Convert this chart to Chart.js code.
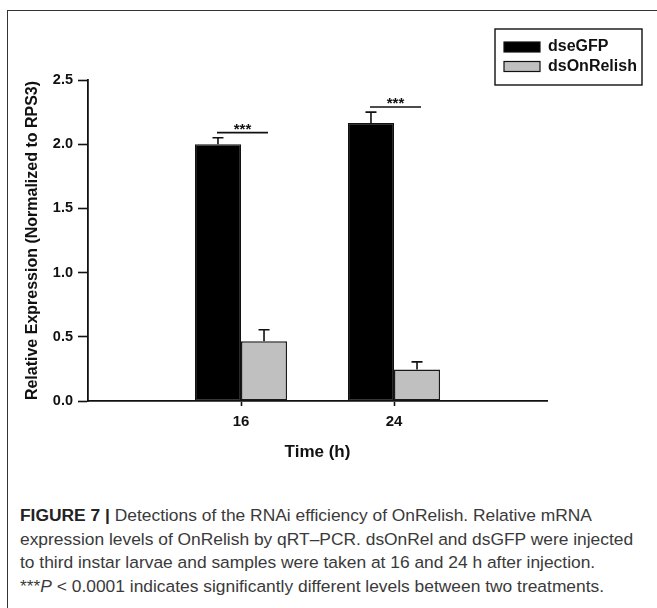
<!DOCTYPE html>
<html>
<head>
<meta charset="utf-8">
<script src="https://cdn.jsdelivr.net/npm/chart.js@4"></script>
<style>
  html, body { margin: 0; padding: 0; background: #fff; }
  #wrap { position: relative; width: 657px; height: 608px; overflow: hidden; }
  #frame { position: absolute; left: 7px; top: 10px; width: 700px; height: 700px;
           border-left: 1.3px solid #333; border-top: 1.3px solid #333; }
  #c { position: absolute; left: 0; top: 0; }
  #cap { position: absolute; left: 20px; top: 504px; font-family: "Liberation Sans", Arial, sans-serif;
         font-size: 17.4px; line-height: 23.5px; color: #3a3a3a; white-space: nowrap; }
  #cap b { color: #222; }
</style>
</head>
<body>
<div id="wrap">
  <div id="frame"></div>
  <canvas id="c" width="657" height="470"></canvas>
  <div id="cap">
    <b>FIGURE 7 |</b> Detections of the RNAi efficiency of OnRelish. Relative mRNA<br>
    expression levels of OnRelish by qRT–PCR. dsOnRel and dsGFP were injected<br>
    to third instar larvae and samples were taken at 16 and 24 h after injection.<br>
    ***<i>P</i> &lt; 0.0001 indicates significantly different levels between two treatments.
  </div>
</div>
<script>
// ---- data ----
const categories = ['', '16', '24', ''];
const seriesNames = ['dseGFP', 'dsOnRelish'];
const dseGFP = [null, 2.00, 2.165, null];
const dsOnRelish = [null, 0.465, 0.245, null];
const dseGFPErr = [null, 0.05, 0.085, null];
const dsOnRelishErr = [null, 0.09, 0.06, null];
const sigLevel = [null, 2.09, 2.29, null];
const sigLabel = [null, '***', '***', null];
const yTicks = [0, 0.5, 1.0, 1.5, 2.0, 2.5];

const FONT = '"Liberation Sans", Arial, sans-serif';
const errors = [dseGFPErr, dsOnRelishErr];

const overlay = {
  id: 'overlay',
  afterDatasetsDraw(chart) {
    const ctx = chart.ctx;
    const ys = chart.scales.y;
    ctx.save();
    // error bars
    chart.data.datasets.forEach((ds, di) => {
      const meta = chart.getDatasetMeta(di);
      meta.data.forEach((bar, i) => {
        const e = errors[di][i];
        const v = ds.data[i];
        if (v == null || e == null) return;
        const y0 = ys.getPixelForValue(v);
        const y1 = ys.getPixelForValue(v + e);
        ctx.strokeStyle = '#111';
        ctx.lineWidth = 1.6;
        ctx.beginPath();
        ctx.moveTo(bar.x, y0);
        ctx.lineTo(bar.x, y1);
        ctx.moveTo(bar.x - 5.5, y1);
        ctx.lineTo(bar.x + 5.5, y1);
        ctx.stroke();
      });
    });
    // significance markers
    const m0 = chart.getDatasetMeta(0), m1 = chart.getDatasetMeta(1);
    sigLevel.forEach((lv, i) => {
      if (lv == null) return;
      const x0 = m0.data[i].x - 1;
      const x1 = m1.data[i].x + 4;
      const y = ys.getPixelForValue(lv);
      ctx.strokeStyle = '#111';
      ctx.lineWidth = 1.6;
      ctx.beginPath();
      ctx.moveTo(x0, y);
      ctx.lineTo(x1, y);
      ctx.stroke();
      ctx.fillStyle = '#111';
      ctx.font = 'bold 15px ' + FONT;
      ctx.textAlign = 'center';
      ctx.textBaseline = 'alphabetic';
      ctx.fillText(sigLabel[i], (x0 + x1) / 2, y + 1);
    });
    // legend box
    const bx = 495, by = 29, bw = 147, bh = 56;
    ctx.strokeStyle = '#111';
    ctx.lineWidth = 1.4;
    ctx.strokeRect(bx, by, bw, bh);
    chart.data.datasets.forEach((ds, di) => {
      const cy = 47 + di * 19.5;
      ctx.fillStyle = ds.backgroundColor;
      ctx.fillRect(504, cy - 5, 36, 10);
      ctx.strokeStyle = '#111';
      ctx.lineWidth = 1.2;
      ctx.strokeRect(504, cy - 5, 36, 10);
      ctx.fillStyle = '#111';
      ctx.font = 'bold 16px ' + FONT;
      ctx.textAlign = 'left';
      ctx.textBaseline = 'middle';
      ctx.fillText(ds.label, 548, cy);
    });
    ctx.restore();
  }
};

new Chart(document.getElementById('c'), {
  type: 'bar',
  data: {
    labels: categories,
    datasets: [
      { label: seriesNames[0], data: dseGFP, backgroundColor: '#000000', borderColor: '#111', borderWidth: 1.2, borderSkipped: false },
      { label: seriesNames[1], data: dsOnRelish, backgroundColor: '#c0c0c0', borderColor: '#1a1a1a', borderWidth: 1.5, borderSkipped: false }
    ]
  },
  options: {
    responsive: false,
    animation: false,
    devicePixelRatio: 1,
    layout: { padding: { left: 0, right: 110, top: 80, bottom: 0 } },
    plugins: { legend: { display: false }, tooltip: { enabled: false } },
    datasets: { bar: { categoryPercentage: 0.602, barPercentage: 1.0 } },
    scales: {
      x: {
        offset: false,
        grid: { display: true, offset: false, drawOnChartArea: false, tickLength: 5,
                tickColor: (c) => (c.index === 1 || c.index === 2) ? '#111' : 'rgba(0,0,0,0)', tickWidth: 1.6 },
        border: { display: true, color: '#111', width: 1.8 },
        ticks: { color: '#111', padding: 7, font: { family: FONT, size: 15, weight: 'bold' }, autoSkip: false, maxRotation: 0 },
        title: { display: true, text: 'Time (h)', color: '#111', font: { family: FONT, size: 17, weight: 'bold' }, padding: { top: 0, bottom: 7 } },
        afterFit: (s) => { s.height = 69; }
      },
      y: {
        min: 0, max: 2.5,
        afterBuildTicks: (s) => { s.ticks = yTicks.map(v => ({ value: v })); },
        grid: { display: true, drawOnChartArea: false, tickLength: 10, color: '#111', tickColor: '#111', tickWidth: 1.6 },
        border: { display: true, color: '#111', width: 1.8 },
        ticks: { color: '#111', padding: 5, font: { family: FONT, size: 14.5, weight: 'bold' }, callback: (v) => Number(v).toFixed(1) },
        title: { display: true, text: 'Relative Expression (Normalized to RPS3)', color: '#111', font: { family: FONT, size: 16, weight: 'bold' }, padding: { top: 23, bottom: 0 } },
        afterFit: (s) => { s.width = 88; }
      }
    }
  },
  plugins: [overlay]
});
</script>
</body>
</html>
